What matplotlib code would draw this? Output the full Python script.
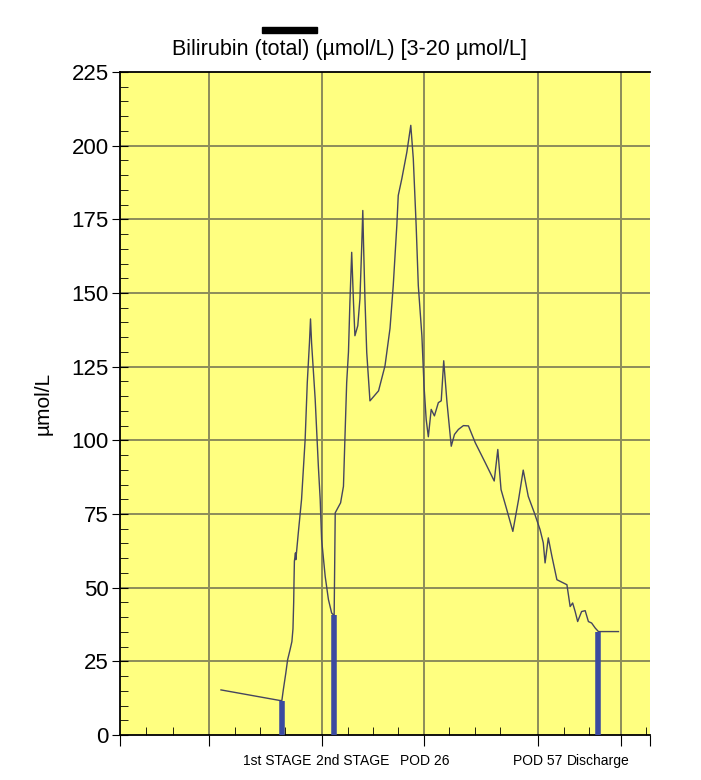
import matplotlib.pyplot as plt
from matplotlib.patches import Rectangle
from matplotlib.transforms import blended_transform_factory

plt.rcParams['font.family'] = ['Liberation Sans', 'DejaVu Sans']

# day index (from start of record) and total bilirubin (umol/L)
days = [28.2, 44.7, 45.2, 45.6, 46.3, 46.8, 47.5, 48.0, 48.3, 48.5, 48.6, 48.7,
        49.0, 49.1, 49.8, 50.7, 51.7, 52.3, 52.9, 53.2, 53.5, 54.5, 55.4, 55.9,
        56.3, 57.3, 58.2, 59.1, 59.8, 60.1, 60.8, 61.6, 62.4, 62.8, 63.3, 63.8,
        64.2, 64.7, 65.2, 65.6, 66.4, 67.0, 67.5, 67.8, 68.0, 68.4, 68.9, 69.8,
        72.2, 74.0, 75.4, 76.3, 77.3, 77.7, 78.7, 80.1, 81.2, 81.9, 82.7, 83.3,
        84.3, 84.9, 85.5, 86.1, 86.9, 87.8, 88.9, 89.7, 90.4, 91.3, 92.5, 93.4,
        94.5, 95.9, 97.3, 99.2, 102.0, 104.5, 105.5, 106.4, 108.0, 109.7, 111.3,
        112.6, 114.0, 115.7, 117.3, 118.2, 118.7, 119.6, 120.6, 122.0, 124.8,
        125.7, 126.4, 127.1, 127.8, 128.9, 129.9, 130.8, 131.7, 132.7, 133.6,
        139.2]
bili = [15.3, 11.7, 11.7, 15.3, 21.0, 25.5, 29.0, 31.7, 36.0, 45.0, 52.7, 59.0,
        61.8, 59.5, 68.7, 80.0, 100.3, 119.7, 133.0, 141.2, 133.0, 114.0, 91.0,
        80.0, 66.3, 53.8, 46.0, 41.4, 40.5, 75.4, 77.0, 78.8, 84.4, 100.3, 119.6,
        130.0, 146.8, 163.8, 146.8, 135.5, 138.9, 148.0, 166.0, 178.0, 167.0,
        148.0, 129.8, 113.4, 116.8, 125.3, 138.0, 152.5, 172.9, 183.1, 188.8,
        197.8, 206.9, 195.6, 172.9, 152.5, 135.5, 118.4, 107.1, 101.2, 110.5,
        108.3, 112.8, 113.4, 127.0, 113.0, 98.0, 102.0, 103.7, 105.0, 104.9, 99.2,
        92.4, 86.2, 96.9, 83.3, 76.5, 69.1, 79.9, 89.9, 81.0, 75.4, 69.7, 65.2,
        58.4, 66.9, 60.7, 52.7, 51.0, 43.6, 44.8, 41.9, 38.5, 41.9, 42.2, 38.5,
        38.0, 36.3, 35.1, 35.1]

# event markers (blue bars)
event_days = [45.1, 59.8, 133.5]
event_vals = [11.7, 40.8, 35.1]

# x axis labels
label_days = [43.9, 65.0, 85.2, 116.5, 133.5]
labels = ["1st STAGE", "2nd STAGE", "POD 26", "POD 57", "Discharge"]

major_x = [0, 24.9, 56.4, 84.9, 116.8, 139.9, 148]
minor_x = [7.3, 14.8, 32, 39, 46, 63.7, 70.7, 77.7, 92, 99, 106, 124, 131, 147]
y_ticks = [0, 25, 50, 75, 100, 125, 150, 175, 200, 225]

fig = plt.figure(figsize=(7.01, 7.80), dpi=100)
ax = fig.add_axes([120 / 701, 45 / 780, 530 / 701, 663 / 780])
ax.set_facecolor('#ffff80')

grid_col = '#8c8c5a'
for g in major_x[1:-1]:
    ax.axvline(g, color=grid_col, lw=1.4, zorder=1)
for y in y_ticks[1:-1]:
    ax.axhline(y, color=grid_col, lw=1.4, zorder=1)

ax.plot(days, bili, color='#45455f', lw=1.0, zorder=3)
ax.vlines(event_days, 0, event_vals, color='#3b4aa0', lw=4, zorder=4)

ax.set_xlim(0, 148)
ax.set_ylim(0, 225)

ax.set_yticks(y_ticks)
ax.set_yticks(range(0, 226, 5), minor=True)
ax.tick_params(axis='y', which='major', direction='inout', length=12,
               labelsize=16, pad=2)
ax.tick_params(axis='y', which='minor', direction='in', length=6)

ax.set_xticks(major_x)
ax.set_xticklabels([])
ax.set_xticks(minor_x, minor=True)
ax.tick_params(axis='x', which='major', direction='out', length=8)
ax.tick_params(axis='x', which='minor', direction='in', length=6)

trans = blended_transform_factory(ax.transData, ax.transAxes)
for d, lab in zip(label_days, labels):
    ax.text(d, -0.028, lab, transform=trans, ha='center', va='top', fontsize=10)

ax.spines['right'].set_visible(False)
for s in ['left', 'bottom', 'top']:
    ax.spines[s].set_linewidth(1.3)

ax.set_ylabel('\u00b5mol/L', fontsize=15, labelpad=14)

fig.text(349 / 701, 1 - 55 / 780,
         'Bilirubin (total) (\u00b5mol/L) [3-20 \u00b5mol/L]',
         ha='center', va='baseline', fontsize=15.5)
fig.add_artist(Rectangle((262 / 701, 1 - 33 / 780), 55 / 701, 6 / 780,
                         color='black', transform=fig.transFigure))

fig.savefig('out.png', dpi=100)
